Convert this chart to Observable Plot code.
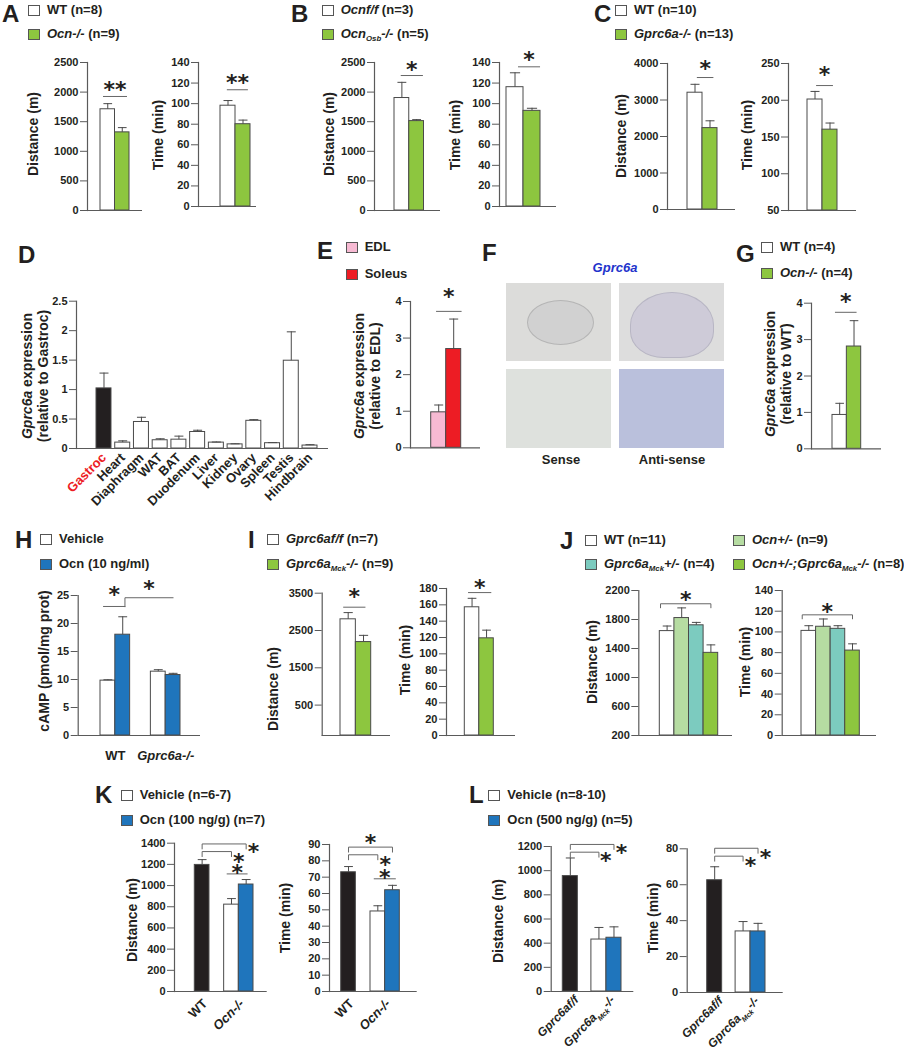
<!DOCTYPE html>
<html><head><meta charset="utf-8">
<script src="https://cdn.jsdelivr.net/npm/d3@7"></script>
<script src="https://cdn.jsdelivr.net/npm/@observablehq/plot@0.6"></script>
<style>
body{margin:0;background:#fff}
#fig{position:relative;width:904px;height:1050px;overflow:hidden;background:#fff;font-family:'Liberation Sans',Arial,Helvetica,sans-serif;font-weight:bold;color:#231f20}
.abs{position:absolute;white-space:nowrap}
.letter{font-size:24px;line-height:24px}
.leg{font-size:13px;line-height:16px}
.sw{position:absolute;width:10px;height:9px;border:1px solid #555}
.ylab{position:absolute;font-size:14px;white-space:nowrap;transform:translate(-50%,-50%) rotate(-90deg);text-align:center;line-height:16px}
.cap{position:absolute;font-size:13px;line-height:16px;white-space:nowrap;transform:translate(-50%,-50%)}
sub{font-size:0.6em;vertical-align:-0.35em;line-height:0}
.img{position:absolute;overflow:hidden}
.img>div{position:absolute}
</style></head><body><div id="fig"></div><script>
// ================= DATA =================
// A
const A_series = ["WT", "Ocn-/-"];
const A_dist = [1710, 1320], A_distErr = [95, 80];
const A_time = [98, 80], A_timeErr = [5, 4];
// B
const B_series = ["Ocnf/f", "OcnOsb-/-"];
const B_dist = [1900, 1510], B_distErr = [265, 25];
const B_time = [116, 93], B_timeErr = [14, 2.5];
// C
const C_series = ["WT", "Gprc6a-/-"];
const C_dist = [3200, 2230], C_distErr = [230, 200];
const C_time = [201, 160], C_timeErr = [11, 9];
// D
const D_tissues = ["Gastroc","Heart","Diaphragm","WAT","BAT","Duodenum","Liver","Kidney","Ovary","Spleen","Testis","Hindbrain"];
const D_expr = [1.02, 0.10, 0.45, 0.14, 0.15, 0.28, 0.10, 0.07, 0.47, 0.09, 1.49, 0.05];
const D_err  = [0.26, 0.03, 0.08, 0.025, 0.06, 0.03, 0.01, 0.01, 0.02, 0.01, 0.49, 0.015];
// E
const E_muscles = ["EDL", "Soleus"];
const E_expr = [0.97, 2.70], E_err = [0.20, 0.82];
// G
const G_series = ["WT", "Ocn-/-"];
const G_expr = [0.93, 2.81], G_err = [0.32, 0.71];
// H
const H_genotypes = ["WT", "Gprc6a-/-"];
const H_treatments = ["Vehicle", "Ocn (10 ng/ml)"];
const H_cAMP = [[9.8, 18.0], [11.4, 10.8]];
const H_cAMPErr = [[0.15, 3.2], [0.35, 0.3]];
// I
const I_series = ["Gprc6af/f", "Gprc6aMck-/-"];
const I_dist = [2800, 2190], I_distErr = [180, 180];
const I_time = [157, 119], I_timeErr = [11, 10];
// J
const J_series = ["WT", "Ocn+/-", "Gprc6aMck+/-", "Ocn+/-;Gprc6aMck-/-"];
const J_dist = [1640, 1820, 1720, 1340], J_distErr = [70, 140, 40, 110];
const J_time = [101, 105, 103, 82], J_timeErr = [5, 7.5, 3, 6.5];
// K
const K_groups = ["WT", "Ocn-/-"];
const K_bars = [["WT"], ["Vehicle", "Ocn (100 ng/g)"]];
const K_dist = [[1195], [820, 1010]], K_distErr = [[50], [57, 47]];
const K_time = [[73], [49, 62]], K_timeErr = [[3.5], [3.5, 3]];
// L
const L_groups = ["Gprc6af/f", "Gprc6aMck-/-"];
const L_bars = [["Gprc6af/f"], ["Vehicle", "Ocn (500 ng/g)"]];
const L_dist = [[955], [430, 445]], L_distErr = [[150], [100, 90]];
const L_time = [[62.5], [34, 34]], L_timeErr = [[7.5], [5.5, 4.5]];

// tick labels
const T_dist2500 = [0, 500, 1000, 1500, 2000, 2500];
const T_time140 = [0, 20, 40, 60, 80, 100, 120, 140];
const T_dist4000 = [0, 1000, 2000, 3000, 4000];
const T_time250 = [50, 100, 150, 200, 250];
const T_D = [0, 0.5, 1, 1.5, 2, 2.5];
const T_04 = [0, 1, 2, 3, 4];
const T_H = [0, 5, 10, 15, 20, 25];
const T_Idist = [500, 1500, 2500, 3500];
const T_Itime = [0, 20, 40, 60, 80, 100, 120, 140, 160, 180];
const T_Jdist = [200, 600, 1000, 1400, 1800, 2200];
const T_Kdist = [0, 200, 400, 600, 800, 1000, 1200, 1400];
const T_Ktime = [0, 10, 20, 30, 40, 50, 60, 70, 80, 90];
const T_Ldist = [0, 200, 400, 600, 800, 1000, 1200];
const T_Ltime = [0, 20, 40, 60, 80];

// ================= STYLE =================
const INK = "#231f20", AXIS = "#5a5a5a", EDGE = "#4a4a4a", BRK = "#666666";
const COL = {white:"#ffffff", green:"#8dc63f", blue:"#1f75bc", black:"#231f20", pink:"#f7bad3", red:"#ed1c24", lgreen:"#b6dca2", teal:"#7ccbbf"};
const MARK = {
  "Ocn-/-": "<i>Ocn-/-</i>", "Gprc6a-/-": "<i>Gprc6a-/-</i>", "Gprc6af/f": "<i>Gprc6af/f</i>",
  "Gprc6aMck-/-": "<i>Gprc6a<sub>Mck</sub>-/-</i>", "OcnOsb-/-": "<i>Ocn<sub>Osb</sub>-/-</i>",
  "Ocnf/f": "<i>Ocnf/f</i>", "Ocn+/-": "<i>Ocn+/-</i>", "Gprc6aMck+/-": "<i>Gprc6a<sub>Mck</sub>+/-</i>",
  "Ocn+/-;Gprc6aMck-/-": "<i>Ocn+/-;Gprc6a<sub>Mck</sub>-/-</i>"
};
const rich = s => MARK[s] ?? s;

const fig = document.getElementById("fig");
function addDiv(cls, html, style) {
  const d = document.createElement("div");
  d.className = cls; d.innerHTML = html;
  for (const k in style) d.style[k] = typeof style[k] === "number" ? style[k] + "px" : style[k];
  fig.appendChild(d); return d;
}

function richify(svg) {
  const NS = "http://www.w3.org/2000/svg";
  svg.querySelectorAll("text").forEach(t => {
    const s = t.textContent;
    if (!s.includes("<")) return;
    while (t.firstChild) t.removeChild(t.firstChild);
    let it = false, sub = false, shifted = false;
    for (const tok of s.split(/(<\/?i>|<\/?sub>)/)) {
      if (tok === "<i>") it = true;
      else if (tok === "</i>") it = false;
      else if (tok === "<sub>") sub = true;
      else if (tok === "</sub>") sub = false;
      else if (tok) {
        const sp = document.createElementNS(NS, "tspan");
        sp.textContent = tok;
        if (it) sp.setAttribute("font-style", "italic");
        if (sub) { sp.setAttribute("font-size", "0.6em"); if (!shifted) { sp.setAttribute("dy", "4"); shifted = true; } }
        else if (shifted) { sp.setAttribute("dy", "-4"); shifted = false; }
        t.appendChild(sp);
      }
    }
  });
}

function chart(spec) {
  const f = spec.frame, gap = f.gap || 0;
  const left = Math.floor(f.axis - 60), top = Math.floor(f.top - 50);
  const width = Math.ceil(f.end + 40 - left), height = Math.ceil(Math.min(f.base + 85, 1050) - top);
  const mL = f.axis - left, mT = f.top - top, mR = width - (f.end - left), mB = height - (f.base - top);
  const bars = [], groups = [];
  let cur = 0;
  spec.groups.forEach((g, gi) => {
    const s0 = cur;
    spec.series[gi].forEach((s, k) => {
      bars.push({series: s, value: spec.values[gi][k], err: spec.errs[gi][k],
        fill: typeof spec.fills === "function" ? spec.fills(s, gi) : spec.fills[s], x1: cur, x2: cur + 1, xc: cur + 0.5});
      cur += 1;
    });
    groups.push({label: rich(g), xc: (s0 + cur) / 2, color: spec.labelColor ? spec.labelColor(g) : INK});
    cur += gap;
  });
  const total = cur - gap;
  const [d0, d1] = spec.y.domain;
  const ppu = (f.base - f.top) / (d1 - d0);
  const CAP = 0.3;
  const pts = [], stars = [];
  (spec.brackets || []).forEach((b, i) => {
    const xa = bars[b.a].xc - (b.extA || 0), xb = bars[b.b].xc + (b.extB || 0);
    if (b.legA) pts.push({id: i, x: xa, y: b.y - b.legA / ppu});
    pts.push({id: i, x: xa, y: b.y}, {id: i, x: xb, y: b.y});
    if (b.legB) pts.push({id: i, x: xb, y: b.y - b.legB / ppu});
    const s = b.star;
    stars.push({x: s.at === "end" ? xb + (s.dx || 0) : (xa + xb) / 2 + (s.dx || 0), y: s.y, text: s.text || "*"});
  });
  const marks = [
    Plot.rect(bars, {x1: "x1", x2: "x2", y1: () => d0, y2: "value", fill: "fill", stroke: EDGE, strokeWidth: 1}),
    Plot.ruleX(bars, {x: "xc", y1: "value", y2: d => d.value + d.err, stroke: EDGE, strokeWidth: 1}),
    Plot.link(bars, {x1: d => d.xc - CAP, x2: d => d.xc + CAP, y1: d => d.value + d.err, y2: d => d.value + d.err, stroke: EDGE, strokeWidth: 1}),
    Plot.ruleY([d0], {stroke: AXIS, strokeWidth: 1.2}),
    Plot.frame({anchor: "left", stroke: AXIS, strokeWidth: 1.2}),
    Plot.axisY(spec.y.ticks, {tickSize: 7, tickPadding: 2, tickFormat: d => String(d), stroke: AXIS, fill: INK, fontSize: 11, fontWeight: "bold", label: null}),
    Plot.line(pts, {x: "x", y: "y", z: "id", stroke: BRK, strokeWidth: 1}),
    Plot.text(stars, {x: "x", y: "y", text: "text", fontFamily: "DejaVu Sans", fontSize: 22, fontWeight: "bold", dy: 6, fill: INK})
  ];
  const xl = spec.xlabels;
  if (xl && xl.mode === "rot") {
    marks.push(Plot.text(groups, {x: "xc", y: () => d0, text: "label", rotate: -45, textAnchor: "end", lineAnchor: "bottom",
      dx: xl.dx, dy: xl.dy, fontSize: xl.fs || 13, fontWeight: "bold", fill: "color"}));
  } else if (xl && xl.mode === "flat") {
    marks.push(Plot.text(groups, {x: "xc", y: () => d0, text: "label", dy: xl.dy, fontSize: 13, fontWeight: "bold", fill: "color"}));
  }
  const svg = Plot.plot({
    width, height, marginLeft: mL, marginRight: mR, marginTop: mT, marginBottom: mB,
    x: {type: "linear", domain: [0, total], range: [f.barsL - left, f.barsR - left], axis: null},
    y: {domain: [d0, d1], label: null},
    color: {type: "identity"},
    style: `position:absolute;left:${left}px;top:${top}px;overflow:visible;background:transparent;max-width:none;font-family:'Liberation Sans',Arial,sans-serif;font-weight:bold;font-size:11px;color:${INK}`,
    marks
  });
  richify(svg);
  fig.appendChild(svg);
}

const one = (arr) => [arr];
const pairFill = (a, b) => ({[a[0]]: COL.white, [a[1]]: b});

// ---------- Panel A ----------
chart({frame: {axis: 87, base: 210, top: 62, end: 142, barsL: 100, barsR: 129},
  y: {domain: [0, 2500], ticks: T_dist2500}, groups: [""], series: one(A_series), values: one(A_dist), errs: one(A_distErr),
  fills: pairFill(A_series, COL.green),
  brackets: [{a: 0, b: 1, y: 1926, extA: 0.3, extB: 0.3, star: {text: "**", y: 2145}}]});
chart({frame: {axis: 198, base: 206, top: 62, end: 256, barsL: 220, barsR: 250},
  y: {domain: [0, 140], ticks: T_time140}, groups: [""], series: one(A_series), values: one(A_time), errs: one(A_timeErr),
  fills: pairFill(A_series, COL.green),
  brackets: [{a: 0, b: 1, y: 113.5, extA: 0.05, extB: 0.3, star: {text: "**", y: 126}}]});
// ---------- Panel B ----------
chart({frame: {axis: 374, base: 210, top: 62, end: 440, barsL: 394, barsR: 423.5},
  y: {domain: [0, 2500], ticks: T_dist2500}, groups: [""], series: one(B_series), values: one(B_dist), errs: one(B_distErr),
  fills: pairFill(B_series, COL.green),
  brackets: [{a: 0, b: 1, y: 2280, extA: 0.05, extB: 0.4, star: {y: 2483}}]});
chart({frame: {axis: 499, base: 206, top: 62, end: 556, barsL: 506, barsR: 540},
  y: {domain: [0, 140], ticks: T_time140}, groups: [""], series: one(B_series), values: one(B_time), errs: one(B_timeErr),
  fills: pairFill(B_series, COL.green),
  brackets: [{a: 0, b: 1, y: 135.8, extA: -0.2, extB: 0.45, star: {y: 148}}]});
// ---------- Panel C ----------
chart({frame: {axis: 667, base: 209, top: 63, end: 735, barsL: 687, barsR: 717},
  y: {domain: [0, 4000], ticks: T_dist4000}, groups: [""], series: one(C_series), values: one(C_dist), errs: one(C_distErr),
  fills: pairFill(C_series, COL.green),
  brackets: [{a: 0, b: 1, y: 3616, extA: -0.15, extB: 0.2, star: {y: 4027}}]});
chart({frame: {axis: 788, base: 210, top: 63, end: 856, barsL: 807, barsR: 837},
  y: {domain: [50, 250], ticks: T_time250}, groups: [""], series: one(C_series), values: one(C_time), errs: one(C_timeErr),
  fills: pairFill(C_series, COL.green),
  brackets: [{a: 0, b: 1, y: 220, extA: -0.1, extB: 0.17, star: {y: 243}}]});
// ---------- Panel D ----------
chart({frame: {axis: 76, base: 448, top: 300.7, end: 328, barsL: 96, barsR: 317, gap: 0.25},
  y: {domain: [0, 2.5], ticks: T_D}, groups: D_tissues, series: D_tissues.map(t => [t]),
  values: D_expr.map(v => [v]), errs: D_err.map(v => [v]),
  fills: s => s === "Gastroc" ? COL.black : COL.white,
  labelColor: g => g === "Gastroc" ? COL.red : INK,
  xlabels: {mode: "rot", dx: 3, dy: 10}});
// ---------- Panel E ----------
chart({frame: {axis: 410, base: 447.3, top: 301, end: 480, barsL: 430.7, barsR: 460.7},
  y: {domain: [0, 4], ticks: T_04}, groups: [""], series: one(E_muscles), values: one(E_expr), errs: one(E_err),
  fills: {EDL: COL.pink, Soleus: COL.red},
  brackets: [{a: 0, b: 1, y: 3.73, extA: 0.15, extB: 0.5, star: {y: 4.3}}]});
// ---------- Panel G ----------
chart({frame: {axis: 811, base: 448.3, top: 302.7, end: 881, barsL: 832, barsR: 860.7},
  y: {domain: [0, 4], ticks: T_04}, groups: [""], series: one(G_series), values: one(G_expr), errs: one(G_err),
  fills: pairFill(G_series, COL.green),
  brackets: [{a: 0, b: 1, y: 3.75, extA: 0.3, extB: 0.15, star: {y: 4.2}}]});
// ---------- Panel H ----------
chart({frame: {axis: 77.7, base: 735, top: 595, end: 200, barsL: 100, barsR: 180, gap: 1.4},
  y: {domain: [0, 25], ticks: T_H}, groups: H_genotypes, series: H_genotypes.map(() => H_treatments),
  values: H_cAMP, errs: H_cAMPErr, fills: pairFill(H_treatments, COL.blue),
  xlabels: {mode: "flat", dy: 20},
  brackets: [{a: 0, b: 1, y: 23.04, extA: 0.3, extB: 0.15, star: {y: 26.25}},
             {a: 1, b: 3, y: 24.6, extA: -0.15, extB: 0, legA: 9, star: {y: 27.3}}]});
// ---------- Panel I ----------
chart({frame: {axis: 321.7, base: 735, top: 592.7, end: 390, barsL: 340, barsR: 370.7},
  y: {domain: [-315, 3500], ticks: T_Idist}, groups: [""], series: one(I_series), values: one(I_dist), errs: one(I_distErr),
  fills: pairFill(I_series, COL.green),
  brackets: [{a: 0, b: 1, y: 3125, extA: 0.3, extB: 0.1, star: {y: 3572}}]});
chart({frame: {axis: 446, base: 735, top: 588, end: 515, barsL: 464.3, barsR: 493.3},
  y: {domain: [0, 180], ticks: T_Itime}, groups: [""], series: one(I_series), values: one(I_time), errs: one(I_timeErr),
  fills: pairFill(I_series, COL.green),
  brackets: [{a: 0, b: 1, y: 175, extA: 0.25, extB: 0.3, star: {y: 188.6}}]});
// ---------- Panel J ----------
const J_fills = {[J_series[0]]: COL.white, [J_series[1]]: COL.lgreen, [J_series[2]]: COL.teal, [J_series[3]]: COL.green};
chart({frame: {axis: 638.3, base: 735, top: 590, end: 732, barsL: 659.3, barsR: 717.7},
  y: {domain: [200, 2200], ticks: T_Jdist}, groups: [""], series: one(J_series), values: one(J_dist), errs: one(J_distErr),
  fills: J_fills,
  brackets: [{a: 0, b: 3, y: 2017, extA: 0.45, extB: 0, legA: 4, legB: 4, star: {y: 2159}}]});
chart({frame: {axis: 781.7, base: 735, top: 590, end: 876, barsL: 801, barsR: 859.3},
  y: {domain: [0, 140], ticks: T_time140}, groups: [""], series: one(J_series), values: one(J_time), errs: one(J_timeErr),
  fills: J_fills,
  brackets: [{a: 0, b: 3, y: 116.5, extA: 0.45, extB: 0, legA: 4, legB: 4, star: {y: 125.5}}]});
// ---------- Panel K ----------
const K_fills = {"WT": COL.black, "Vehicle": COL.white, "Ocn (100 ng/g)": COL.blue};
chart({frame: {axis: 174, base: 991, top: 842.7, end: 266.7, barsL: 194.3, barsR: 253, gap: 1},
  y: {domain: [0, 1400], ticks: T_Kdist}, groups: K_groups, series: K_bars, values: K_dist, errs: K_distErr,
  fills: K_fills, xlabels: {mode: "rot", dx: 6, dy: 13},
  brackets: [{a: 0, b: 2, y: 1393, legA: 5, legB: 5, star: {at: "end", dx: 0.5, y: 1377}},
             {a: 0, b: 1, y: 1321, legA: 5, legB: 5, star: {at: "end", dx: 0.5, y: 1283}},
             {a: 1, b: 2, y: 1110, extA: 0.3, extB: 0.07, star: {y: 1173}}]});
chart({frame: {axis: 329, base: 991, top: 844, end: 416.7, barsL: 340.7, barsR: 399.3, gap: 1},
  y: {domain: [0, 90], ticks: T_Ktime}, groups: K_groups, series: K_bars, values: K_time, errs: K_timeErr,
  fills: K_fills, xlabels: {mode: "rot", dx: 6, dy: 13},
  brackets: [{a: 0, b: 2, y: 88.4, legA: 5, legB: 5, star: {y: 94.5}},
             {a: 0, b: 1, y: 83.7, legA: 5, legB: 5, star: {at: "end", dx: 0.5, y: 81.4}},
             {a: 1, b: 2, y: 69, extA: 0.25, extB: 0.2, star: {y: 73}}]});
// ---------- Panel L ----------
const L_fills = {"Gprc6af/f": COL.black, "Vehicle": COL.white, "Ocn (500 ng/g)": COL.blue};
chart({frame: {axis: 550.7, base: 991, top: 846, end: 633.3, barsL: 562.3, barsR: 621, gap: 0.9},
  y: {domain: [0, 1200], ticks: T_Ldist}, groups: L_groups, series: L_bars, values: L_dist, errs: L_distErr,
  fills: L_fills, xlabels: {mode: "rot", dx: 9, dy: 9, fs: 12},
  brackets: [{a: 0, b: 2, y: 1217, legA: 5, legB: 5, star: {at: "end", dx: 0.5, y: 1195}},
             {a: 0, b: 1, y: 1153, legA: 5, legB: 5, star: {at: "end", dx: 0.45, y: 1126}}]});
chart({frame: {axis: 686.7, base: 992, top: 848.3, end: 782.7, barsL: 706.7, barsR: 765, gap: 0.9},
  y: {domain: [0, 80], ticks: T_Ltime}, groups: L_groups, series: L_bars, values: L_time, errs: L_timeErr,
  fills: L_fills, xlabels: {mode: "rot", dx: 9, dy: 9, fs: 12},
  brackets: [{a: 0, b: 2, y: 80.3, legA: 5, legB: 5, star: {at: "end", dx: 0.5, y: 78}},
             {a: 0, b: 1, y: 75.9, legA: 5, legB: 5, star: {at: "end", dx: 0.5, y: 74}}]});

// ================= TEXT: letters, legends, axis titles =================
const letters = [["A", 2, 22], ["B", 291, 22], ["C", 594, 22], ["D", 18, 263], ["E", 317, 259], ["F", 482, 261], ["G", 736, 262],
  ["H", 15, 548], ["I", 248, 548], ["J", 560, 549], ["K", 95, 803], ["L", 469, 803]];
letters.forEach(([t, x, b]) => addDiv("abs letter", t, {left: x, top: b - 20.3}));

function legend(x, cy, color, name, extra) {
  addDiv("sw", "", {left: x, top: cy - 5.5, background: color});
  addDiv("abs leg", rich(name) + (extra ? " " + extra : ""), {left: x + 19, top: cy - 8});
}
legend(28, 10, COL.white, A_series[0], "(n=8)"); legend(28, 34, COL.green, A_series[1], "(n=9)");
legend(321.7, 10, COL.white, B_series[0], "(n=3)"); legend(321.7, 34, COL.green, B_series[1], "(n=5)");
legend(615, 10, COL.white, C_series[0], "(n=10)"); legend(615, 34, COL.green, C_series[1], "(n=13)");
legend(345.7, 247.3, COL.pink, E_muscles[0]); legend(345.7, 274, COL.red, E_muscles[1]);
legend(761, 247.3, COL.white, G_series[0], "(n=4)"); legend(761, 273.3, COL.green, G_series[1], "(n=4)");
legend(40, 539, COL.white, H_treatments[0]); legend(40, 564.3, COL.blue, H_treatments[1]);
legend(267, 539, COL.white, I_series[0], "(n=7)"); legend(267, 564.3, COL.green, I_series[1], "(n=9)");
legend(585, 540, COL.white, J_series[0], "(n=11)"); legend(733, 540, COL.lgreen, J_series[1], "(n=9)");
legend(585, 564.3, COL.teal, J_series[2], "(n=4)"); legend(733, 564.3, COL.green, J_series[3], "(n=8)");
legend(120.7, 795, COL.white, "Vehicle", "(n=6-7)"); legend(120.7, 820, COL.blue, K_bars[1][1], "(n=7)");
legend(488.3, 795, COL.white, "Vehicle", "(n=8-10)"); legend(488.3, 820, COL.blue, L_bars[1][1], "(n=5)");

const ylabels = [
  ["Distance (m)", 33, 134], ["Time (min)", 158, 135], ["Distance (m)", 329, 134], ["Time (min)", 455, 135],
  ["Distance (m)", 621, 136], ["Time (min)", 747, 135],
  ["<i>Gprc6a</i> expression<br>(relative to Gastroc)", 35, 376],
  ["<i>Gprc6a</i> expression<br>(relative to EDL)", 366.5, 376],
  ["<i>Gprc6a</i> expression<br>(relative to WT)", 777.5, 374],
  ["cAMP (pmol/mg prot)", 44, 661], ["Distance (m)", 273, 689], ["Time (min)", 405, 660],
  ["Distance (m)", 591.7, 662], ["Time (min)", 745, 662],
  ["Distance (m)", 131.7, 920], ["Time (min)", 285, 918], ["Distance (m)", 498.3, 921], ["Time (min)", 653.3, 918]
];
ylabels.forEach(([t, x, y]) => addDiv("ylab", t, {left: x, top: y}));

// ================= Panel F (in situ images, schematic) =================
function img(x, y, w, h, bg, inner) {
  const d = addDiv("img", "", {left: x, top: y, width: w, height: h, background: bg});
  if (inner) { const e = document.createElement("div"); Object.assign(e.style, inner); d.appendChild(e); }
}
img(505.7, 282.7, 105.3, 78.3, "#dcdcda", {left: "20%", top: "22%", width: "62%", height: "55%", borderRadius: "50%", background: "#d1d1d1", border: "1px solid #b5b5b5"});
img(619.3, 282.7, 105, 78.3, "#dddddd", {left: "10%", top: "12%", width: "78%", height: "82%", borderRadius: "50% 50% 40% 40%", background: "#cecbd8", border: "1px solid #b8b6c4"});
img(505.7, 369, 105.3, 79, "#dee1dd");
img(619.3, 369.3, 105, 79, "#bac0dc");
addDiv("cap", "<i>Gprc6a</i>", {left: 615, top: 268, color: "#2233cc"});
addDiv("cap", "Sense", {left: 561, top: 460});
addDiv("cap", "Anti-sense", {left: 672, top: 460});
</script></body></html>
